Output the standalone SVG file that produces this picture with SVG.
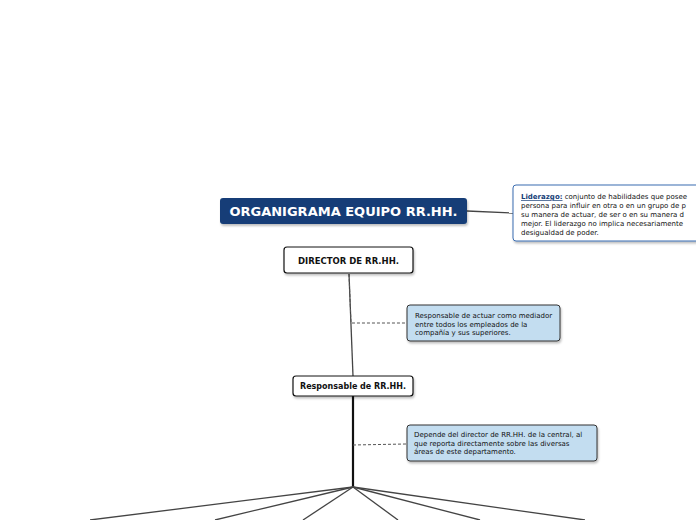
<svg xmlns="http://www.w3.org/2000/svg" width="696" height="520" viewBox="0 0 696 520">
<style>
text{font-family:"DejaVu Sans",Verdana,sans-serif;fill:#111}
.b{font-weight:bold}
.note{fill:#c3ddf0;stroke:#333;stroke-width:1}
.wb{fill:#fff;stroke:#111;stroke-width:1.2}
.s{font-size:7px}
.ln{stroke:#444;stroke-width:1.3;fill:none}
.dash{stroke:#555;stroke-width:1;stroke-dasharray:3,2;fill:none}
</style>
<defs><filter id="sh" x="-10%" y="-20%" width="130%" height="160%"><feDropShadow dx="1" dy="2" stdDeviation="1" flood-color="#000" flood-opacity="0.25"/></filter></defs>
<rect width="696" height="520" fill="#fff"/>
<g id="connectors">
<line class="ln" x1="467" y1="211" x2="513" y2="213"/>
<line class="ln" x1="349" y1="274" x2="353" y2="376"/>
<path class="dash" d="M349 274 L351 323 L406 323"/>
<line x1="353" y1="396" x2="353" y2="487" stroke="#111" stroke-width="2.2"/>
<path class="dash" d="M353 445 L406 444"/>
<g class="ln"><line x1="353" y1="487" x2="90" y2="520"/><line x1="353" y1="487" x2="215" y2="520"/><line x1="353" y1="487" x2="303" y2="520"/><line x1="353" y1="487" x2="398" y2="520"/><line x1="353" y1="487" x2="480" y2="520"/><line x1="353" y1="487" x2="585" y2="520"/></g>
</g>
<g id="title"><rect x="220" y="198" width="247" height="26" rx="3" fill="#163e77" filter="url(#sh)"/><text x="343.500" y="216" text-anchor="middle" class="b" font-size="13" style="fill:#fff">ORGANIGRAMA EQUIPO RR.HH.</text></g>
<g id="liderazgo"><rect x="513" y="185" width="200" height="56" rx="3" fill="#fff" stroke="#3b6db0" filter="url(#sh)"/>
<text class="s" x="521" y="199"><tspan class="b" text-decoration="underline" style="fill:#163e77">Liderazgo:</tspan> conjunto de habilidades que posee</text>
<text class="s" x="521" y="208">persona para influir en otra o en un grupo de p</text>
<text class="s" x="521" y="217">su manera de actuar, de ser o en su manera d</text>
<text class="s" x="521" y="226">mejor. El liderazgo no implica necesariamente</text>
<text class="s" x="521" y="235">desigualdad de poder.</text></g>
<g id="director"><rect class="wb" x="284" y="247" width="129" height="26" rx="3" filter="url(#sh)"/><text x="348.500" y="264" text-anchor="middle" class="b" font-size="8.500">DIRECTOR DE RR.HH.</text></g>
<g id="nota1"><rect class="note" x="407" y="305" width="153" height="36" rx="3" filter="url(#sh)"/>
<text class="s" x="415" y="318">Responsable de actuar como mediador</text>
<text class="s" x="415" y="326.500">entre todos los empleados de la</text>
<text class="s" x="415" y="335">compañía y sus superiores.</text></g>
<g id="responsable"><rect class="wb" x="293" y="376" width="120" height="20" rx="3" filter="url(#sh)"/><text x="353" y="389" text-anchor="middle" class="b" font-size="8">Responsable de RR.HH.</text></g>
<g id="nota2"><rect class="note" x="407" y="425" width="190" height="36" rx="3" filter="url(#sh)"/>
<text class="s" x="414" y="437">Depende del director de RR.HH. de la central, al</text>
<text class="s" x="414" y="445.500">que reporta directamente sobre las diversas</text>
<text class="s" x="414" y="454">áreas de este departamento.</text></g>
</svg>
